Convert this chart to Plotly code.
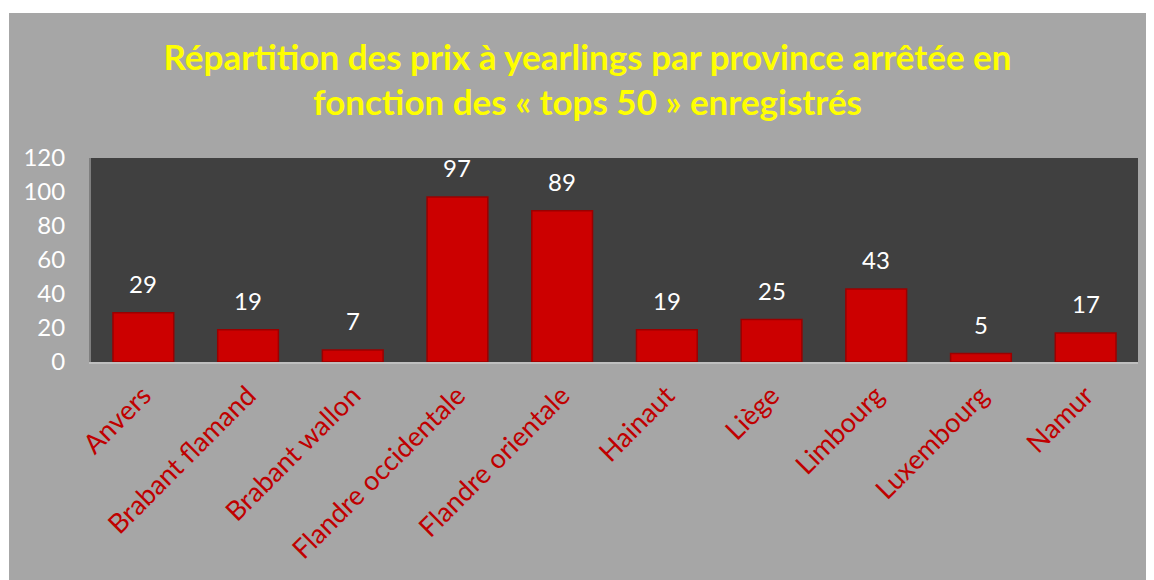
import plotly.graph_objects as go

provinces = ["Anvers", "Brabant flamand", "Brabant wallon", "Flandre occidentale",
             "Flandre orientale", "Hainaut", "Liège", "Limbourg", "Luxembourg", "Namur"]
tops = [29, 19, 7, 97, 89, 19, 25, 43, 5, 17]

FONT = "Lato"
GRAY = "#a6a6a6"
DARK = "#404040"
RED = "#cc0000"

fig = go.Figure(go.Bar(
    x=provinces, y=tops,
    marker=dict(color=RED, line=dict(color="#9a0000", width=1.5)),
    hoverinfo="x+y", showlegend=False))

# value labels, floated a bit above the bars like the original
for p, v in zip(provinces, tops):
    fig.add_annotation(x=p, y=v, text=str(v), showarrow=False, yanchor="bottom",
                       yshift=13, font=dict(family=FONT, size=24, color="white"))

# gray card behind everything (leaves a thin white edge top/left), dark plot area on top
fig.add_shape(type="rect", xref="paper", yref="paper", x0=-0.0783, x1=1.04,
              y0=-1.08, y1=1.711, fillcolor=GRAY, line=dict(width=0), layer="below")
fig.add_shape(type="rect", xref="x domain", yref="y domain", x0=0, x1=1, y0=0, y1=1,
              fillcolor=DARK, line=dict(width=0), layer="below")

fig.update_layout(
    width=1146, height=572,
    title=dict(text="Répartition des prix à yearlings par province arrêtée en<br>"
                    "fonction des « tops 50 » enregistrés",
               x=0.5057, xanchor="center", y=0.892, yanchor="middle",
               font=dict(family=FONT, size=35, color="#ffff00", weight="bold")),
    paper_bgcolor="white", plot_bgcolor="rgba(0,0,0,0)",
    margin=dict(l=83, r=16, t=150, b=218),
    bargap=0.42,
    xaxis=dict(tickangle=-45, tickfont=dict(family=FONT, size=27, color="#c00000"),
               showline=True, linecolor="#bfbfbf", linewidth=2, ticks="",
               ticklabelstandoff=5, showgrid=False),
    yaxis=dict(range=[0, 120], dtick=20, showgrid=False, zeroline=False,
               showline=True, linecolor="#7f7f7f", linewidth=2,
               tickfont=dict(family=FONT, size=24, color="white"),
               ticklabelstandoff=19),
)

fig.write_html("out.html")
